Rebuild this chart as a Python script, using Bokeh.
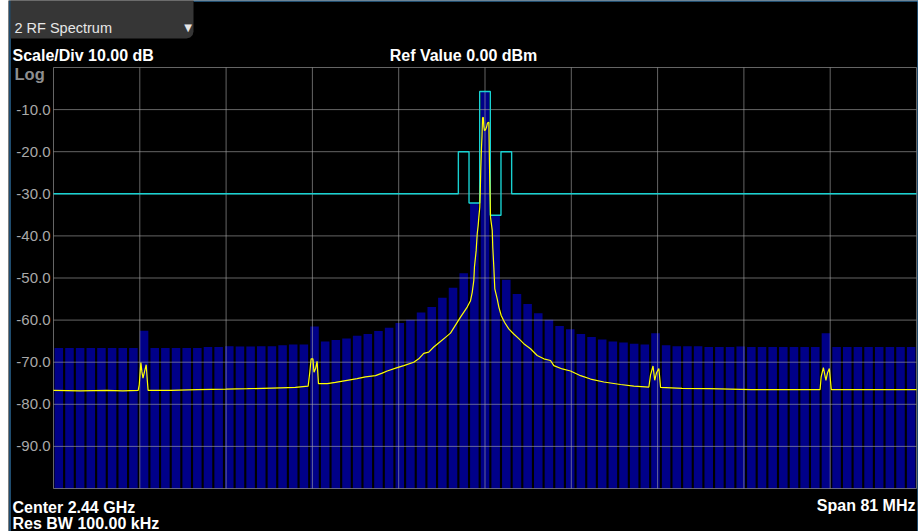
from bokeh.plotting import figure
from bokeh.models import Range1d
from bokeh.core.properties import value
from bokeh.embed import file_html
from bokeh.resources import INLINE

# ---------------- data ----------------
center_mhz = 2440
span_mhz = 81
ref_db = 0
scale_db = 10
channels_mhz = list(range(2400, 2481))          # 1 MHz bins
bar_db = [
    -66.6, -66.6, -66.6, -66.6, -66.6, -66.6, -66.6, -66.6, -62.5, -66.6,
    -66.6, -66.6, -66.6, -66.6, -66.4, -66.4, -66.2, -66.3, -66.3, -66.2,
    -66.2, -66.0, -65.8, -65.8, -61.5, -65.1, -64.7, -64.4, -63.7, -63.3,
    -62.6, -61.8, -60.7, -59.9, -58.2, -56.9, -54.7, -52.3, -48.9, -32.2,
    -5.7, -35.1, -50.4, -53.8, -56.2, -58.4, -59.9, -61.4, -62.2, -63.3,
    -64.0, -64.6, -65.1, -65.3, -65.6, -65.8, -63.1, -66.0, -66.2, -66.2,
    -66.2, -66.4, -66.4, -66.4, -66.3, -66.4, -66.4, -66.4, -66.4, -66.4,
    -66.4, -66.4, -63.1, -66.4, -66.4, -66.4, -66.4, -66.4, -66.4, -66.4,
    -66.4,
]
trace_mhz = [
    -40.5, -38.0, -35.5, -34.0, -32.55,
    -32.45, -32.3, -32.2, -32.1, -31.95, -31.8, -31.7, -31.62,
    -29.5, -27.0, -24.3, -22.3, -19.2, -17.8, -16.6,
    -16.45, -16.32, -16.15, -16.05, -15.9, -15.76, -15.63,
    -14.8, -14.04, -12.94, -12.0, -11.22, -10.28, -9.65, -9.18, -8.24, -7.62,
    -6.69, -6.22, -5.75, -5.28, -4.81, -4.18, -3.71, -3.24, -2.3, -1.67,
    -1.36, -1.2, -1.05, -0.99, -0.83, -0.73, -0.64, -0.58, -0.49, -0.45,
    -0.39, -0.33, -0.28, -0.23, -0.16, -0.11, -0.05, 0.05, 0.14, 0.23,
    0.36, 0.4, 0.47, 0.52, 0.68, 0.73, 0.83, 0.87, 0.92, 1.15,
    1.3, 1.52, 1.83, 2.23, 2.7, 3.17, 3.64, 4.27, 4.9, 5.52,
    6.15, 6.46, 7.25, 8.03, 8.97, 9.91, 11.15, 12.72, 13.97, 15.38,
    15.54, 15.77, 15.93, 16.1, 16.32, 16.48,
    18.5, 21.0, 25.0, 28.0, 31.45,
    31.55, 31.76, 32.0, 32.15, 32.32, 32.5,
    36.0, 40.5,
]
trace_db = [
    -76.7, -76.8, -76.7, -76.8, -76.7,
    -75.3, -70.1, -72.3, -73.8, -72.2, -70.6, -74.2, -76.7,
    -76.7, -76.5, -76.4, -76.3, -76.1, -76.0, -75.7,
    -72.5, -69.2, -69.2, -72.4, -71.5, -69.8, -75.1,
    -75.1, -74.8, -74.3, -73.9, -73.5, -73.2, -72.6, -72.1, -71.3, -70.8,
    -70.0, -69.2, -67.9, -67.6, -66.4, -65.1, -64.1, -63.1, -59.3, -56.9,
    -55.4, -53.4, -50.6, -47.4, -43.5, -39.5, -37.5, -35.6, -33.2, -30.0,
    -23.7, -19.0, -16.2, -12.0, -11.8, -14.0, -15.0, -14.8, -14.2, -13.2,
    -13.0, -20.0, -30.0, -35.6, -38.7, -42.7, -47.5, -49.8, -52.6, -55.0,
    -56.9, -58.9, -60.5, -62.1, -63.3, -64.4, -65.6, -66.8, -68.4, -69.2,
    -69.6, -70.8, -71.6, -72.1, -73.2, -74.0, -74.7, -75.3, -75.7, -75.9,
    -73.0, -70.9, -74.3, -72.5, -71.5, -76.0,
    -76.2, -76.3, -76.5, -76.5, -76.5,
    -73.5, -71.3, -74.3, -72.5, -71.5, -76.5,
    -76.5, -76.5,
]
mask_mhz = [-40.5, -2.5, -2.5, -1.5, -1.5, -0.5, -0.5, 0.5, 0.5, 1.5, 1.5, 2.5, 2.5, 40.5]
mask_db = [-30, -30, -20, -20, -32.2, -32.2, -5.7, -5.7, -35.1, -35.1, -20, -20, -30, -30]
y_ticks = [-10, -20, -30, -40, -50, -60, -70, -80, -90]
y_tick_labels = ["-10.0", "-20.0", "-30.0", "-40.0", "-50.0", "-60.0", "-70.0", "-80.0", "-90.0"]

# ---------------- layout (page pixels -> data) ----------------
W, H = 910, 531           # figure size; figure placed at page (8, 0)
PAGE_X0 = 8
FRAME_L, FRAME_T, FRAME_W, FRAME_H = 53, 67, 863, 421   # plot area on the page
half = span_mhz / 2
y_bot = ref_db - 10 * scale_db
offsets = [c - center_mhz for c in channels_mhz]


def X(px):
    return (px - FRAME_L - FRAME_W / 2) * span_mhz / FRAME_W


def Y(py):
    return ref_db - (py - FRAME_T) * (ref_db - y_bot) / FRAME_H


p = figure(
    width=W, height=H,
    x_range=Range1d(X(PAGE_X0), X(PAGE_X0 + W)), y_range=Range1d(Y(H), Y(0)),
    output_backend="svg", toolbar_location=None,
    x_axis_location=None, y_axis_location=None,
    min_border=0, min_border_left=0, min_border_right=0,
    min_border_top=0, min_border_bottom=0,
    background_fill_color="black", border_fill_color="black",
    styles={"position": "absolute", "top": "0px", "left": "8px"},
)
p.title.visible = False
p.outline_line_color = None
p.grid.visible = False

F = value("Liberation Sans")

# bars (channel power)
p.vbar(x=offsets, width=0.8, top=bar_db, bottom=y_bot,
       fill_color="#000088", line_color=None)

# graticule (drawn over the bars)
vx = [-half + span_mhz / 10 * k for k in range(0, 11)]
hy = [ref_db - scale_db * k for k in range(0, 11)]
p.segment(x0=vx, y0=y_bot, x1=vx, y1=ref_db, line_color="#a8a8a8", line_alpha=0.6, line_width=1)
p.segment(x0=-half, y0=hy, x1=half, y1=hy, line_color="#a8a8a8", line_alpha=0.6, line_width=1)

# limit mask and spectrum trace
p.line(mask_mhz, mask_db, line_color="#18d2d2", line_width=1.4)
p.line(trace_mhz, trace_db, line_color="#ffff00", line_width=1.2)

# y tick labels
p.text(x=X(50), y=y_ticks, text=y_tick_labels, text_align="right", text_baseline="middle",
       text_font=F, text_font_size="15px", text_color="#a9a9a9")

# window frame (blue) and tab
p.segment(x0=[X(9.5), X(193), X(917.5)], y0=[Y(0), Y(0.5), Y(0)],
          x1=[X(9.5), X(918), X(917.5)], y1=[Y(531), Y(0.5), Y(531)],
          line_color="#3f97dc", line_width=1)
r = 7
tab_x = [10, 193, 193, 192.1, 189.6, 186, 10]
tab_y = [0, 0, 38 - r, 38 - r * 0.5, 38 - r * 0.13, 38, 38]
p.patch([X(v) for v in tab_x], [Y(v) for v in tab_y], fill_color="#363636", line_color=None)

p.text(x=X(14), y=Y(27.3), text=["2 RF Spectrum"], text_align="left", text_baseline="alphabetic",
       text_font=F, text_font_size="14.5px", text_color="#e6e6e6")
p.text(x=X(187.5), y=Y(27), text=["▼"], text_align="center", text_baseline="alphabetic",
       text_font=value("DejaVu Sans"), text_font_size="10px", text_color="#e6e6e6")

# header / footer texts
def label(px, py, s, align="left", color="white", size="16px"):
    p.text(x=X(px), y=Y(py), text=[s], text_align=align, text_baseline="alphabetic",
           text_font=F, text_font_style="bold", text_font_size=size, text_color=color)


label(12, 55, "Scale/Div 10.00 dB")
label(463, 55, "Ref Value 0.00 dBm", align="center")
label(14, 73, "Log", color="#8f8f8f", size="16.5px")
label(12, 506.5, "Center 2.44 GHz")
label(12, 523, "Res BW 100.00 kHz")
label(915, 505, "Span 81 MHz", align="right")

open("out.html", "w").write(file_html(p, INLINE))
